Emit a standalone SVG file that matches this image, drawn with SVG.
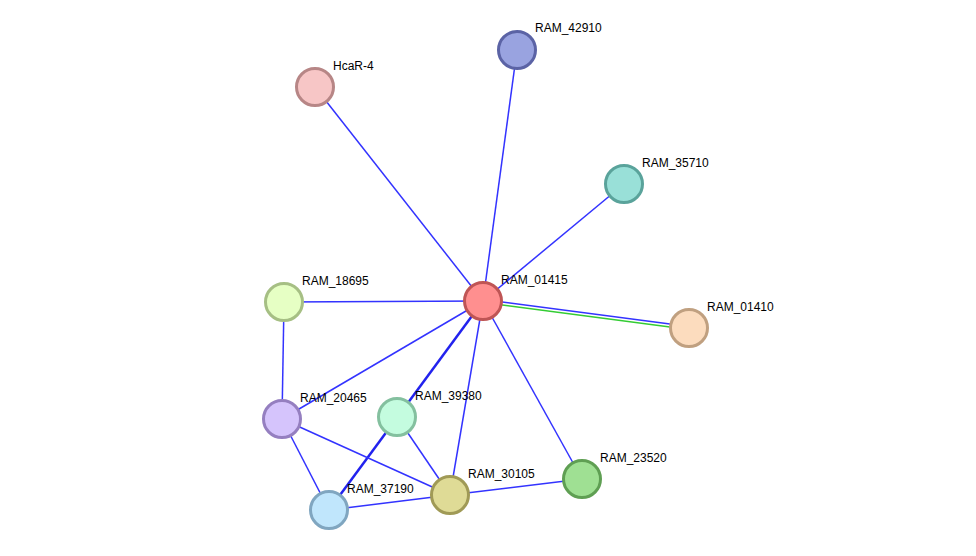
<svg xmlns="http://www.w3.org/2000/svg" width="976" height="556" viewBox="0 0 976 556">
<style>
.e{stroke:#3333ff;stroke-width:1.5;fill:none}
.t{stroke:#2222ee;stroke-width:2.5;fill:none}
.g{stroke:#33cc33;stroke-width:1.5;fill:none}
.n circle{stroke-width:3}
.n text{font-family:"Liberation Sans",Arial,sans-serif;font-size:12px;fill:#000}
</style>
<rect width="976" height="556" fill="#fff"/>
<g id="edges">
<line class="e" x1="483" y1="301" x2="517" y2="50"/>
<line class="e" x1="483" y1="301" x2="315" y2="87"/>
<line class="e" x1="483" y1="301" x2="624" y2="184"/>
<line class="e" x1="483" y1="301" x2="284" y2="302"/>
<line class="e" x1="483" y1="299.5" x2="689" y2="326.5"/>
<line class="g" x1="483" y1="302.5" x2="689" y2="329.5"/>
<line class="e" x1="483" y1="301" x2="282" y2="419"/>
<line class="t" x1="483" y1="301" x2="329" y2="510"/>
<line class="e" x1="483" y1="301" x2="450" y2="495"/>
<line class="e" x1="483" y1="301" x2="582" y2="479"/>
<line class="e" x1="284" y1="302" x2="282" y2="419"/>
<line class="e" x1="282" y1="419" x2="450" y2="495"/>
<line class="e" x1="282" y1="419" x2="329" y2="510"/>
<line class="e" x1="397" y1="417" x2="450" y2="495"/>
<line class="e" x1="329" y1="510" x2="450" y2="495"/>
<line class="e" x1="450" y1="495" x2="582" y2="479"/>
</g>
<g id="RAM_42910" class="n"><circle cx="517" cy="50" r="18.5" fill="#99a3e0" stroke="#5b63a5"/><text x="535" y="32">RAM_42910</text></g>
<g id="HcaR-4" class="n"><circle cx="315" cy="87" r="18.5" fill="#f7c6c6" stroke="#b78686"/><text x="333" y="70">HcaR-4</text></g>
<g id="RAM_35710" class="n"><circle cx="624" cy="184" r="18.5" fill="#99e0d8" stroke="#5aa39b"/><text x="642" y="167">RAM_35710</text></g>
<g id="RAM_01415" class="n"><circle cx="483" cy="301" r="18.5" fill="#ff8f8f" stroke="#bf5555"/><text x="501" y="284">RAM_01415</text></g>
<g id="RAM_18695" class="n"><circle cx="284" cy="302" r="18.5" fill="#e6ffc4" stroke="#a6bf84"/><text x="302" y="285">RAM_18695</text></g>
<g id="RAM_01410" class="n"><circle cx="689" cy="328" r="18.5" fill="#fcdcbe" stroke="#c0a080"/><text x="707" y="311">RAM_01410</text></g>
<g id="RAM_20465" class="n"><circle cx="282" cy="419" r="18.5" fill="#d5c4fc" stroke="#957fc0"/><text x="300" y="402">RAM_20465</text></g>
<g id="RAM_39380" class="n"><circle cx="397" cy="417" r="18.5" fill="#c4fcdf" stroke="#84c09f"/><text x="415" y="400">RAM_39380</text></g>
<g id="RAM_30105" class="n"><circle cx="450" cy="495" r="18.5" fill="#dfdb96" stroke="#a09a56"/><text x="468" y="478">RAM_30105</text></g>
<g id="RAM_23520" class="n"><circle cx="582" cy="479" r="18.5" fill="#9fe093" stroke="#5f9f53"/><text x="600" y="462">RAM_23520</text></g>
<g id="RAM_37190" class="n"><circle cx="329" cy="510" r="18.5" fill="#c0e6fc" stroke="#80a6c0"/><text x="347" y="493">RAM_37190</text></g>
</svg>
